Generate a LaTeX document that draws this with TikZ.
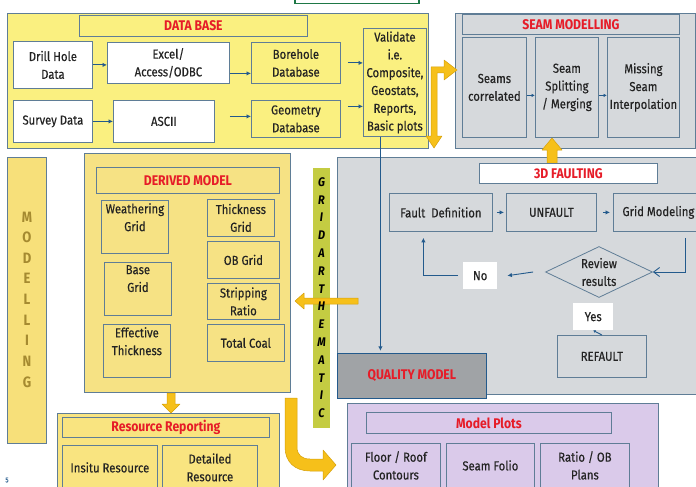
\documentclass[tikz,border=0pt]{standalone}
\usepackage{fontspec}
\setmainfont{Fira Sans}[FakeStretch=0.87, UprightFeatures={FakeBold=0.35}]
\usetikzlibrary{arrows.meta,shapes.geometric}
\definecolor{dbfill}{RGB}{250,240,128}
\definecolor{dmfill}{RGB}{246,226,132}
\definecolor{rrfill}{RGB}{249,228,128}
\definecolor{mbfill}{RGB}{247,224,122}
\definecolor{grayfill}{RGB}{214,217,220}
\definecolor{qfill}{RGB}{160,163,166}
\definecolor{purpfill}{RGB}{218,202,234}
\definecolor{gridfill}{RGB}{196,204,66}
\definecolor{goldc}{RGB}{246,192,26}
\definecolor{goldd}{RGB}{214,160,10}
\definecolor{bordc}{RGB}{95,125,150}
\definecolor{arrc}{RGB}{35,90,140}
\definecolor{redc}{RGB}{230,28,40}
\definecolor{txtc}{RGB}{35,35,35}
\definecolor{mtxt}{RGB}{165,138,48}
\definecolor{greenc}{RGB}{30,120,70}
\tikzset{
 panel/.style={draw=bordc, line width=0.7pt, anchor=north west, inner sep=0pt},
 bx/.style={draw=bordc, line width=0.8pt, anchor=north west, inner sep=1pt, align=center, text=txtc, font=\fontsize{13}{17.8}\selectfont},
 ttl/.style={bx, text=redc, font=\bfseries\fontsize{14}{16}\selectfont},
 txt/.style={inner sep=1pt, align=center, text=txtc, font=\fontsize{13}{17.8}\selectfont},
 conn/.style={draw=arrc, line width=0.9pt, -{Latex[length=4.5pt,width=4.5pt]}},
 gold/.style={fill=goldc, draw=goldd, line width=0.5pt, line join=round},
 vlet/.style={inner sep=0pt, font=\bfseries\itshape\fontsize{12.5}{12.5}\selectfont, text=black},
 mlet/.style={inner sep=0pt, font=\bfseries\fontsize{15}{15}\selectfont, text=mtxt},
}
\begin{document}
\begin{tikzpicture}[x=1pt,y=-1pt]
\useasboundingbox (0,0) rectangle (696,487);
\clip (0,0) rectangle (696,487);
\fill[white] (0,0) rectangle (696,487);

% top green box (partly visible)
\node[draw=greenc, line width=1.5pt, fill=white, anchor=north west, minimum width=124pt, minimum height=9pt, inner sep=0pt] (greenbox) at (294,-6) {};

% panels
\node[panel, fill=dbfill, minimum width=421pt, minimum height=135pt] (dbpanel) at (7,13) {};
\node[panel, fill=grayfill, minimum width=240pt, minimum height=135pt] (seampanel) at (455,13) {};
\node[panel, fill=grayfill, minimum width=370pt, minimum height=237pt] (faultpanel) at (337,157) {};
\node[panel, fill=dmfill, minimum width=206pt, minimum height=239pt] (dmpanel) at (84,153) {};
\node[panel, fill=mbfill, minimum width=39pt, minimum height=286pt] (mbar) at (7,157) {};
\node[panel, draw=none, fill=gridfill, minimum width=17pt, minimum height=260pt] (gridbar) at (313,168) {};
\node[panel, fill=rrfill, minimum width=222pt, minimum height=90pt] (rrpanel) at (57,413) {};
\node[panel, fill=purpfill, minimum width=311pt, minimum height=90pt] (mppanel) at (347,403) {};

% DATA BASE
\node[ttl, minimum width=228pt, minimum height=21pt] (dbtitle) at (79,15) {DATA BASE};
\node[bx, fill=white, minimum width=79pt, minimum height=47pt] (drill) at (13,41) {Drill Hole\\Data};
\node[bx, fill=white, minimum width=122pt, minimum height=41pt] (excel) at (107,42) {Excel/\\Access/ODBC};
\node[bx, minimum width=89pt, minimum height=41pt] (borehole) at (251,42) {Borehole\\Database};
\node[bx, minimum width=63pt, minimum height=108pt] (validate) at (363,28) {Validate\\i.e.\\Composite,\\Geostats,\\Reports,\\Basic plots};
\node[bx, fill=white, minimum width=79pt, minimum height=42pt] (survey) at (13,100) {Survey Data};
\node[bx, fill=white, minimum width=101pt, minimum height=42pt] (ascii) at (113,100) {ASCII};
\node[bx, minimum width=89pt, minimum height=37pt] (geometry) at (251,100) {Geometry\\Database};

\draw[conn] (drill.east) -- (drill.east -| excel.west);
\draw[conn] ([yshift=-10.5pt]excel.east) -- ([yshift=-10.5pt]excel.east -| borehole.west);
\draw[conn] ([xshift=7pt]borehole.east) -- (borehole.east -| validate.west);
\draw[conn] (survey.east) -- (survey.east -| ascii.west);
\draw[conn] ([xshift=15pt,yshift=5pt]ascii.east) -- ([yshift=5pt]ascii.east -| geometry.west);
\draw[conn] ([xshift=7pt,yshift=12.5pt]geometry.east) -- ([yshift=12.5pt]geometry.east -| validate.west);

% SEAM MODELLING
\node[ttl, minimum width=217pt, minimum height=20pt] (seamtitle) at (462,14) {SEAM MODELLING};
\node[bx, minimum width=64pt, minimum height=100pt] (seams) at (462,37) {Seams\\correlated};
\node[bx, minimum width=63pt, minimum height=100pt] (split) at (535,37) {Seam\\Splitting\\/ Merging};
\node[bx, minimum width=72pt, minimum height=100pt] (missing) at (607,37) {Missing\\Seam\\Interpolation};
\draw[conn, -{Latex[length=3.5pt,width=3.5pt]}] ([yshift=-8pt]seams.east) -- ([yshift=-8pt]seams.east -| split.west);
\draw[conn, -{Latex[length=3.5pt,width=3.5pt]}] ([yshift=-8pt]split.east) -- ([yshift=-8pt]split.east -| missing.west);

% 3D FAULTING
\path[gold] (547,163) -- (547,150) -- (542,150) -- (552,138) -- (562,150) -- (557,150) -- (557,163) -- cycle;
\node[ttl, fill=white, minimum width=178pt, minimum height=20pt] (faulttitle) at (479,163) {3D FAULTING};
\node[bx, minimum width=103pt, minimum height=38pt] (faultdef) at (389,193) {Fault\ \ Definition};
\node[bx, minimum width=90pt, minimum height=38pt] (unfault) at (506,193) {UNFAULT};
\node[bx, minimum width=90pt, minimum height=38pt] (gridmod) at (613,193) {Grid Modeling};
\node[draw=bordc, line width=0.8pt, diamond, aspect=2.1, inner sep=0pt, minimum width=107pt, minimum height=51pt, align=center, text=txtc, font=\fontsize{13}{17.8}\selectfont] (review) at (599,272) {Review\\results};
\node[txt, fill=white, anchor=north west, minimum width=34pt, minimum height=27pt] (no) at (463,262) {No};
\node[txt, fill=white, anchor=north west, minimum width=40pt, minimum height=27pt] (yes) at (573,303) {Yes};
\node[bx, minimum width=89pt, minimum height=42pt] (refault) at (557,335) {REFAULT};

\draw[conn, shorten <=4pt, shorten >=2pt] (faultdef.east) -- (unfault.west);
\draw[conn, shorten <=6pt, shorten >=3pt] (unfault.east) -- (gridmod.west);
\draw[conn, -{Straight Barb[length=6pt,width=9pt]}] ([xshift=27pt,yshift=-6pt]gridmod.south) |- (review.east);
\draw[conn] ([xshift=-12pt]review.west) -- ([xshift=10pt]no.east);
\draw[conn] ([xshift=-5pt]no.west) -| ([xshift=-17.5pt,yshift=-6pt]faultdef.south);
\draw[conn, -{Latex[length=2.5pt,width=3pt]}] (refault.north) -- (yes.south);

% QUALITY MODEL
\draw[conn] ([xshift=-14.5pt]validate.south) -- ([xshift=-14.5pt,yshift=-214pt]validate.south);
\node[ttl, draw=arrc, fill=qfill, minimum width=149pt, minimum height=45pt] (quality) at (337,353) {QUALITY MODEL};

% DERIVED MODEL
\node[ttl, minimum width=183pt, minimum height=26pt] (dmtitle) at (96,167) {DERIVED MODEL};
\node[bx, minimum width=67pt, minimum height=53pt] (weather) at (101,200) {};
\node[txt, anchor=north] (weathert) at ([yshift=-2pt]weather.north) {Weathering\\Grid};
\node[bx, minimum width=67pt, minimum height=37pt] (thickgrid) at (207,199) {Thickness\\Grid};
\node[bx, minimum width=72pt, minimum height=37pt] (obgrid) at (207,241) {OB Grid};
\node[bx, minimum width=67pt, minimum height=53pt] (basegrid) at (104,262) {};
\node[txt, anchor=north] (basegridt) at ([yshift=-2pt]basegrid.north) {Base\\Grid};
\node[bx, minimum width=72pt, minimum height=36pt] (strip) at (207,283) {Stripping\\Ratio};
\node[bx, minimum width=67pt, minimum height=53pt] (effthick) at (103,324) {};
\node[txt, anchor=north] (effthickt) at ([yshift=-2pt]effthick.north) {Effective\\Thickness};
\node[bx, minimum width=77pt, minimum height=37pt] (totalcoal) at (207,324) {Total Coal};

% MODELLING bar letters
\foreach \l [count=\i] in {M,O,D,E,L,L,I,N,G}
  \node[mlet] (ml\i) at (27,{217+20.6*(\i-1)}) {\l};

% Resource reporting
\node[ttl, minimum width=207pt, minimum height=20pt] (rrtitle) at (62,417) {Resource Reporting};
\node[bx, minimum width=95pt, minimum height=44pt] (insitu) at (62,445) {Insitu Resource};
\node[bx, minimum width=95pt, minimum height=44pt] (detailed) at (162,445) {Detailed\\Resource};

% Model plots
\node[ttl, minimum width=245pt, minimum height=21pt] (mptitle) at (366,412) {Model Plots};
\node[bx, minimum width=89pt, minimum height=44pt] (floor) at (351,443) {Floor / Roof\\Contours};
\node[bx, minimum width=88pt, minimum height=44pt] (folio) at (446,443) {Seam Folio};
\node[bx, minimum width=89pt, minimum height=44pt] (ratio) at (540,443) {Ratio / OB\\Plans};

% gold arrows
\path[gold] (431,136) -- (431,67) -- (444,67) -- (444,60) -- (457,70) -- (444,80) -- (444,73) -- (437,73) -- (437,136) -- (442,136) -- (434,148) -- (426,136) -- cycle;
\path[gold] (358,298) -- (304,298) -- (304,293) -- (295,301) -- (304,309) -- (304,304) -- (358,304) -- cycle;
\path[gold] (167,393) -- (175,393) -- (175,404) -- (180,404) -- (171,413) -- (162,404) -- (167,404) -- cycle;
\path[gold] (285,398) -- (297,398) -- (297,447) .. controls (297,455) and (302,459) .. (310,459) -- (323,459) -- (323,450) -- (336,465) -- (323,480) -- (323,471) -- (310,471) .. controls (295,471) and (285,462) .. (285,447) -- cycle;

% GRIDARTHEMATIC letters
\foreach \l [count=\i] in {G,R,I,D,A,R,T,H,E,M,A,T,I,C}
  \node[vlet] (gl\i) at (321.5,{182+17.8*(\i-1)}) {\l};

% page number
\node[inner sep=0pt, text=arrc, font=\fontsize{7}{7}\selectfont] (pgnum) at (7,480) {5};
\end{tikzpicture}
\end{document}
